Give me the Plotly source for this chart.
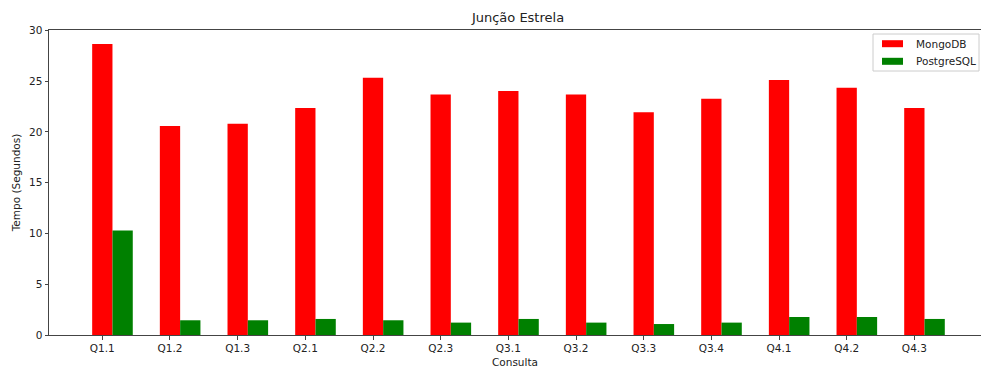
import plotly.graph_objects as go

categories = ["Q1.1", "Q1.2", "Q1.3", "Q2.1", "Q2.2", "Q2.3", "Q3.1", "Q3.2", "Q3.3", "Q3.4", "Q4.1", "Q4.2", "Q4.3"]
mongodb = [28.66, 20.57, 20.80, 22.35, 25.34, 23.69, 24.02, 23.69, 21.92, 23.27, 25.11, 24.35, 22.35]
postgresql = [10.29, 1.45, 1.45, 1.58, 1.45, 1.22, 1.58, 1.22, 1.08, 1.22, 1.77, 1.77, 1.58]
y_ticks = [0, 5, 10, 15, 20, 25, 30]
series_names = ["MongoDB", "PostgreSQL"]
series_colors = ["#ff0000", "#008000"]

FONT = "DejaVu Sans"
pos = list(range(len(categories)))
w = 0.3

# plot area geometry (pixels) for the hand-drawn legend
L, R, T, B = 49, 981, 30, 335
def px(x):
    return (x - L) / (R - L)
def py(y):
    return (B - y) / (B - T)

fig = go.Figure()
for name, vals, col, off in [(series_names[0], mongodb, series_colors[0], -w / 2),
                             (series_names[1], postgresql, series_colors[1], w / 2)]:
    fig.add_trace(go.Bar(x=pos, y=vals, name=name, width=w, offset=off,
                         marker=dict(color=col, line=dict(width=0)), showlegend=False))

shapes = [dict(type="rect", xref="paper", yref="paper", x0=px(873), x1=px(979), y0=py(71), y1=py(34),
               line=dict(color="#cccccc", width=1), fillcolor="rgba(255,255,255,0.8)", layer="above")]
annotations = []
for i, (name, col) in enumerate(zip(series_names, series_colors)):
    cy = 43.7 + i * 17.6
    shapes.append(dict(type="rect", xref="paper", yref="paper", x0=px(882), x1=px(903),
                       y0=py(cy + 3.5), y1=py(cy - 3.5), line=dict(width=0), fillcolor=col, layer="above"))
    annotations.append(dict(text=name, xref="paper", yref="paper", x=px(914), y=py(cy),
                            xanchor="left", yanchor="middle", showarrow=False,
                            font=dict(size=10.5, color="#222", family=FONT)))

fig.update_layout(
    width=981, height=369,
    margin=dict(l=L, r=0, t=T, b=369 - B),
    paper_bgcolor="white", plot_bgcolor="white",
    barmode="overlay",
    font=dict(family=FONT, size=10.5, color="#222"),
    title=dict(text="Junção Estrela", x=(49 + 987) / 2 / 981, xanchor="center",
               y=1 - 17 / 369, yanchor="middle", font=dict(size=13, color="#222")),
    showlegend=False,
    shapes=shapes,
    annotations=annotations,
    xaxis=dict(range=[-0.788, 12.985], tickmode="array", tickvals=pos, ticktext=categories,
               showgrid=False, zeroline=False, showline=True, linecolor="#444", linewidth=1,
               mirror=True, ticks="outside", ticklen=3.5, tickcolor="#444",
               title=dict(text="Consulta", standoff=5, font=dict(size=10.5))),
    yaxis=dict(range=[0, 30.03], tickmode="array", tickvals=y_ticks,
               showgrid=False, zeroline=False, showline=True, linecolor="#444", linewidth=1,
               ticks="outside", ticklen=3.5, tickcolor="#444",
               title=dict(text="Tempo (Segundos)", standoff=6, font=dict(size=10.5))),
)

fig.write_html("out.html")
